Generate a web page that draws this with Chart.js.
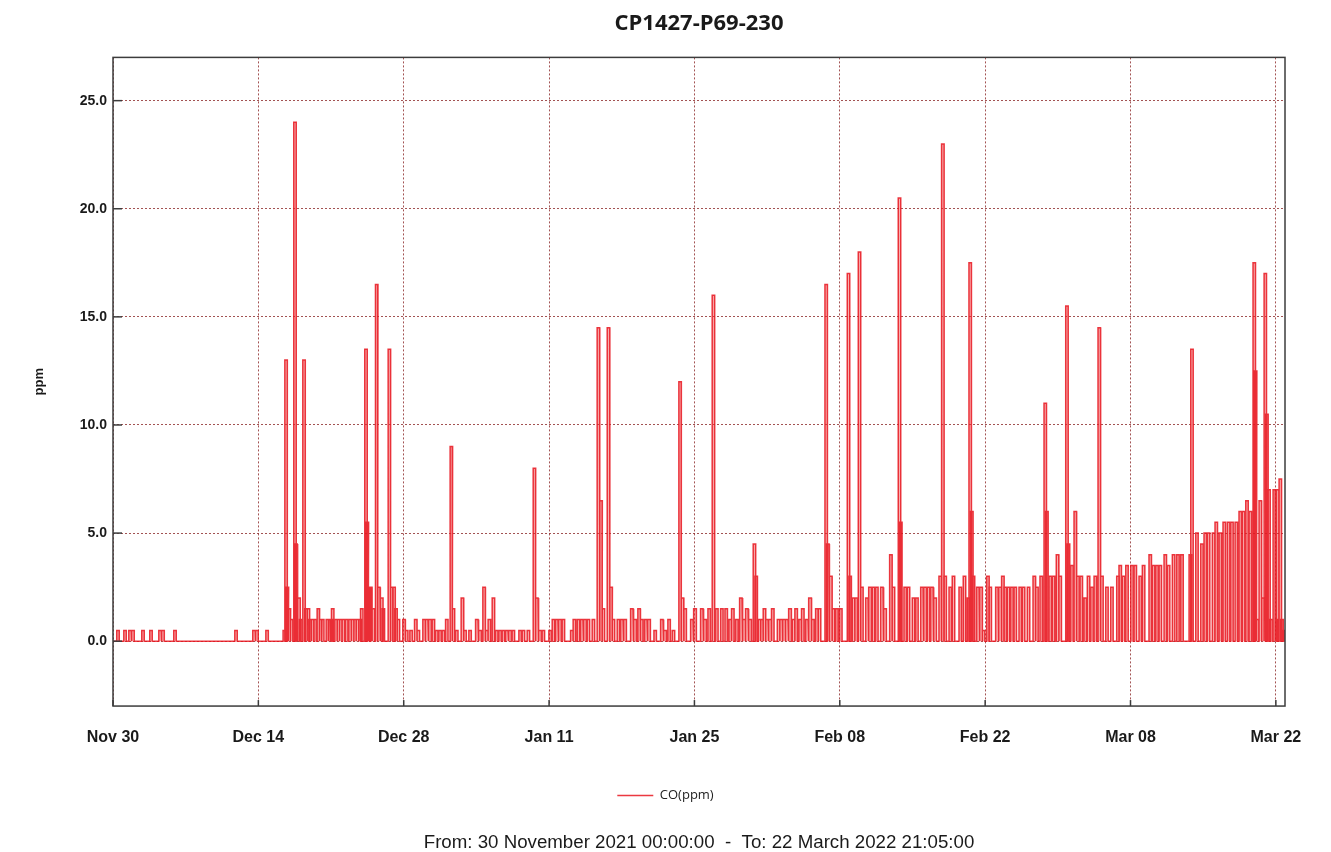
<!DOCTYPE html>
<html>
<head>
<meta charset="utf-8">
<title>CP1427-P69-230</title>
<script src="https://cdn.jsdelivr.net/npm/chart.js@4.4.1/dist/chart.umd.min.js"></script>
<style>
  html, body { margin: 0; padding: 0; background: #fff; }
  #wrap { width: 1331px; height: 852px; }
</style>
</head>
<body>
<div id="wrap"><canvas id="co-chart" width="1331" height="852"></canvas></div>
<script>
// days since 30 Nov 2021 00:00 for each CO reading, and its value in ppm
const readingDay = [
  0.48, 1.16, 1.64, 1.93, 2.89, 3.66, 4.53, 4.82, 5.97, 11.85, 13.58, 13.87, 14.84,
  16.5, 16.67, 16.8, 16.99, 17.2, 17.53, 17.63, 17.92, 18.08, 18.4, 18.59, 18.82, 18.98,
  19.24, 19.46, 19.78, 20.0, 20.2, 20.65, 20.84, 21.03, 21.16, 21.48, 21.71, 21.93, 22.19,
  22.51, 22.83, 23.09, 23.31, 23.54, 23.8, 23.96, 24.37, 24.5, 24.69, 24.83, 25.08, 25.4,
  25.6, 25.89, 26.04, 26.62, 26.85, 27.07, 27.26, 27.49, 28.03, 28.29, 28.71, 29.16, 29.41,
  29.96, 30.22, 30.54, 30.86, 31.18, 31.5, 31.82, 32.15, 32.59, 32.79, 33.11, 33.65, 33.91,
  34.39, 35.04, 35.36, 35.74, 36.0, 36.25, 36.64, 36.96, 37.28, 37.6, 37.93, 38.25, 38.56,
  39.21, 39.53, 40.01, 40.59, 40.82, 41.14, 41.45, 42.1, 42.42, 42.74, 43.06, 43.38, 44.19,
  44.44, 44.83, 45.15, 45.47, 45.79, 46.27, 46.75, 47.01, 47.23, 47.72, 47.98, 48.2, 48.68,
  49.01, 49.33, 49.97, 50.29, 50.67, 50.93, 51.32, 51.64, 52.22, 52.86, 53.18, 53.56, 53.98,
  54.62, 54.85, 55.11, 55.75, 56.07, 56.71, 57.03, 57.42, 57.83, 58.16, 58.64, 59.06, 59.44,
  59.7, 60.09, 60.47, 60.79, 61.05, 61.37, 61.78, 61.95, 62.27, 62.49, 62.75, 62.98, 63.29,
  63.55, 64.1, 64.35, 64.64, 64.9, 65.22, 65.54, 65.8, 66.18, 66.44, 66.83, 67.15, 67.41,
  67.79, 68.05, 68.69, 68.85, 69.14, 69.39, 69.72, 70.1, 70.84, 71.0, 71.32, 71.58, 71.9,
  72.13, 72.61, 72.93, 73.25, 73.57, 74.05, 74.37, 74.92, 75.17, 75.75, 75.88, 76.3, 76.62,
  77.1, 77.43, 77.91, 78.23, 78.55, 78.87, 79.19, 79.67, 79.93, 80.15, 80.64, 80.95, 81.6,
  82.01, 82.4, 82.56, 82.72, 82.88, 83.3, 83.62, 83.85, 84.27, 84.49, 85.13, 85.45, 85.71,
  85.93, 86.25, 86.58, 86.9, 87.38, 87.7, 88.18, 88.73, 88.99, 89.4, 89.79, 89.95, 90.27,
  90.59, 90.97, 91.23, 91.88, 92.03, 92.36, 92.68, 92.94, 93.26, 93.64, 93.96, 94.29, 94.61,
  94.99, 95.25, 95.73, 96.21, 96.79, 97.01, 97.33, 97.66, 98.14, 98.46, 98.94, 99.26, 99.9,
  100.22, 100.55, 100.87, 101.35, 101.67, 102.15, 102.57, 102.96, 103.76, 103.92, 104.4,
  104.88, 105.2, 105.52, 106.0, 106.26, 106.65, 107.03, 107.45, 107.77, 108.19, 108.57,
  108.89, 109.22, 109.54, 109.92, 110.05, 110.24, 110.5, 110.76, 110.98, 111.14, 111.34,
  111.53, 111.85, 112.04, 112.17, 112.43, 112.59, 112.75
];
const readingPpm = [
  0.5, 0.5, 0.5, 0.5, 0.5, 0.5, 0.5, 0.5, 0.5, 0.5, 0.5, 0.5, 0.5,
  0.5, 13.0, 2.5, 1.5, 1.0, 24.0, 4.5, 2.0, 1.0, 13.0, 1.5, 1.5, 1.0,
  1.0, 1.0, 1.5, 1.0, 1.0, 1.0, 1.0, 1.0, 1.5, 1.0, 1.0, 1.0, 1.0,
  1.0, 1.0, 1.0, 1.0, 1.0, 1.0, 1.5, 13.5, 5.5, 2.5, 2.5, 1.5, 16.5,
  2.5, 2.0, 1.5, 13.5, 2.5, 2.5, 1.5, 1.0, 1.0, 0.5, 0.5, 1.0, 0.5,
  1.0, 1.0, 1.0, 1.0, 0.5, 0.5, 0.5, 1.0, 9.0, 1.5, 0.5, 2.0, 0.5,
  0.5, 1.0, 0.5, 2.5, 0.5, 1.0, 2.0, 0.5, 0.5, 0.5, 0.5, 0.5, 0.5,
  0.5, 0.5, 0.5, 8.0, 2.0, 0.5, 0.5, 0.5, 1.0, 1.0, 1.0, 1.0, 0.5,
  1.0, 1.0, 1.0, 1.0, 1.0, 1.0, 14.5, 6.5, 1.5, 14.5, 2.5, 1.0, 1.0,
  1.0, 1.0, 1.5, 1.0, 1.5, 1.0, 1.0, 1.0, 0.5, 1.0, 0.5, 1.0, 0.5,
  12.0, 2.0, 1.5, 1.0, 1.5, 1.5, 1.0, 1.5, 16.0, 1.5, 1.5, 1.5, 1.0,
  1.5, 1.0, 2.0, 1.0, 1.5, 1.0, 4.5, 3.0, 1.0, 1.0, 1.5, 1.0, 1.0,
  1.5, 1.0, 1.0, 1.0, 1.0, 1.5, 1.0, 1.5, 1.0, 1.5, 1.0, 2.0, 1.0,
  1.5, 1.5, 16.5, 4.5, 3.0, 1.5, 1.5, 1.5, 17.0, 3.0, 2.0, 2.0, 18.0,
  2.5, 2.0, 2.5, 2.5, 2.5, 2.5, 1.5, 4.0, 2.5, 20.5, 5.5, 2.5, 2.5,
  2.0, 2.0, 2.5, 2.5, 2.5, 2.5, 2.0, 3.0, 23.0, 3.0, 2.5, 3.0, 2.5,
  3.0, 2.0, 17.5, 6.0, 3.0, 2.5, 2.5, 0.5, 3.0, 2.5, 2.5, 2.5, 3.0,
  2.5, 2.5, 2.5, 2.5, 2.5, 2.5, 2.5, 3.0, 2.5, 3.0, 11.0, 6.0, 3.0,
  3.0, 4.0, 3.0, 15.5, 4.5, 3.5, 6.0, 3.0, 3.0, 2.0, 3.0, 2.5, 3.0,
  14.5, 3.0, 2.5, 2.5, 3.0, 3.5, 3.0, 3.5, 3.5, 3.5, 3.0, 3.5, 4.0,
  3.5, 3.5, 3.5, 4.0, 3.5, 4.0, 4.0, 4.0, 4.0, 13.5, 5.0,
  4.5, 5.0, 5.0, 5.0, 5.5, 5.0, 5.5, 5.5, 5.5, 5.5, 6.0,
  6.0, 6.5, 6.0, 17.5, 12.5, 1.0, 6.5, 2.0, 17.0, 10.5, 7.0,
  1.0, 7.0, 1.0, 7.0, 7.5, 1.0, 0.5
];

const rangeEnd = 112.88; // 22 Mar 2022 21:05
const xTickDays = [0, 14, 28, 42, 56, 70, 84, 98, 112];
const xTickLabels = ["Nov 30", "Dec 14", "Dec 28", "Jan 11", "Jan 25", "Feb 08", "Feb 22", "Mar 08", "Mar 22"];
const yTicks = [0, 5, 10, 15, 20, 25];

// each reading is held for a short interval, so draw it as a narrow step
const halfStep = 0.12;
let series = [{ x: 0, y: 0 }];
readingDay.forEach((d, i) => {
  series.push({ x: d - halfStep, y: 0 });
  series.push({ x: d - halfStep, y: readingPpm[i] });
  series.push({ x: d + halfStep, y: readingPpm[i] });
  series.push({ x: d + halfStep, y: 0 });
});
series.push({ x: rangeEnd, y: 0 });

const gridDots = "rgba(140, 40, 40, 0.8)";
const frameColor = "#3c3c3c";

// box round the plot, with short tick marks pointing inwards
const framePlugin = {
  id: "frame",
  afterDraw(chart) {
    const { ctx, chartArea: a, scales } = chart;
    ctx.save();
    ctx.strokeStyle = frameColor;
    ctx.lineWidth = 1.5;
    ctx.strokeRect(a.left, a.top, a.right - a.left, a.bottom - a.top);
    scales.x.ticks.forEach((t) => {
      const px = scales.x.getPixelForValue(t.value);
      ctx.beginPath();
      ctx.moveTo(px, a.bottom);
      ctx.lineTo(px, a.bottom - 6);
      ctx.stroke();
    });
    scales.y.ticks.forEach((t) => {
      const py = scales.y.getPixelForValue(t.value);
      ctx.beginPath();
      ctx.moveTo(a.left, py);
      ctx.lineTo(a.left + 9, py);
      ctx.stroke();
    });
    ctx.restore();
  },
};

const canvas = document.getElementById("co-chart");
const coChart = new Chart(canvas.getContext("2d"), {
  type: "line",
  data: {
    datasets: [
      {
        label: "CO(ppm)",
        data: series,
        borderColor: "rgba(232, 22, 32, 0.85)",
        backgroundColor: "rgba(240, 55, 55, 0.4)",
        borderWidth: 1.5,
        fill: "origin",
        pointRadius: 0,
        tension: 0,
      },
    ],
  },
  options: {
    responsive: false,
    animation: false,
    events: [],
    parsing: false,
    layout: { padding: 0 },
    scales: {
      x: {
        type: "linear",
        min: 0,
        max: rangeEnd,
        afterBuildTicks: (scale) => {
          scale.ticks = xTickDays.map((v) => ({ value: v }));
        },
        afterFit: (scale) => {
          scale.height = 73;
        },
        ticks: {
          autoSkip: false,
          maxRotation: 0,
          padding: 22,
          color: "#1a1a1a",
          font: { family: "'Liberation Sans', Arial, sans-serif", size: 16, weight: "bold" },
          callback: (value, index) => xTickLabels[index],
        },
        grid: { color: gridDots, lineWidth: 1, drawTicks: false },
        border: { display: false, dash: [2, 2] },
      },
      y: {
        type: "linear",
        min: -3,
        max: 27,
        afterBuildTicks: (scale) => {
          scale.ticks = yTicks.map((v) => ({ value: v }));
        },
        afterFit: (scale) => {
          scale.width = 113;
        },
        ticks: {
          padding: 6,
          color: "#1a1a1a",
          font: { family: "'Liberation Sans', Arial, sans-serif", size: 14, weight: "bold" },
          callback: (value) => value.toFixed(1),
        },
        grid: { color: gridDots, lineWidth: 1, drawTicks: false },
        border: { display: false, dash: [2, 2] },
        title: {
          display: true,
          text: "ppm",
          color: "#1a1a1a",
          padding: { top: 32, bottom: 0 },
          font: { family: "'Liberation Sans', Arial, sans-serif", size: 13, weight: "bold" },
        },
      },
      // empty right-hand margin, so the legend centres on the whole page
      yRight: {
        position: "right",
        display: true,
        grid: { display: false },
        ticks: { display: false },
        border: { display: false },
        afterFit: (scale) => {
          scale.width = 46;
        },
      },
    },
    plugins: {
      title: {
        display: true,
        fullSize: false,
        text: "CP1427-P69-230",
        color: "#1a1a1a",
        padding: { top: 11, bottom: 20 },
        font: { family: "'Open Sans', sans-serif", size: 22, weight: "bold" },
      },
      legend: {
        display: true,
        position: "bottom",
        labels: {
          usePointStyle: true,
          pointStyle: "line",
          pointStyleWidth: 36,
          padding: 10,
          color: "#222",
          font: { family: "'Open Sans', sans-serif", size: 13 },
        },
      },
      subtitle: {
        display: true,
        fullSize: false,
        position: "bottom",
        text: "From: 30 November 2021 00:00:00  -  To: 22 March 2022 21:05:00",
        color: "#1a1a1a",
        padding: { top: 19.5, bottom: -2 },
        font: { family: "'Liberation Sans', Arial, sans-serif", size: 18.7 },
      },
      tooltip: { enabled: false },
    },
  },
  plugins: [framePlugin],
});
</script>
</body>
</html>
